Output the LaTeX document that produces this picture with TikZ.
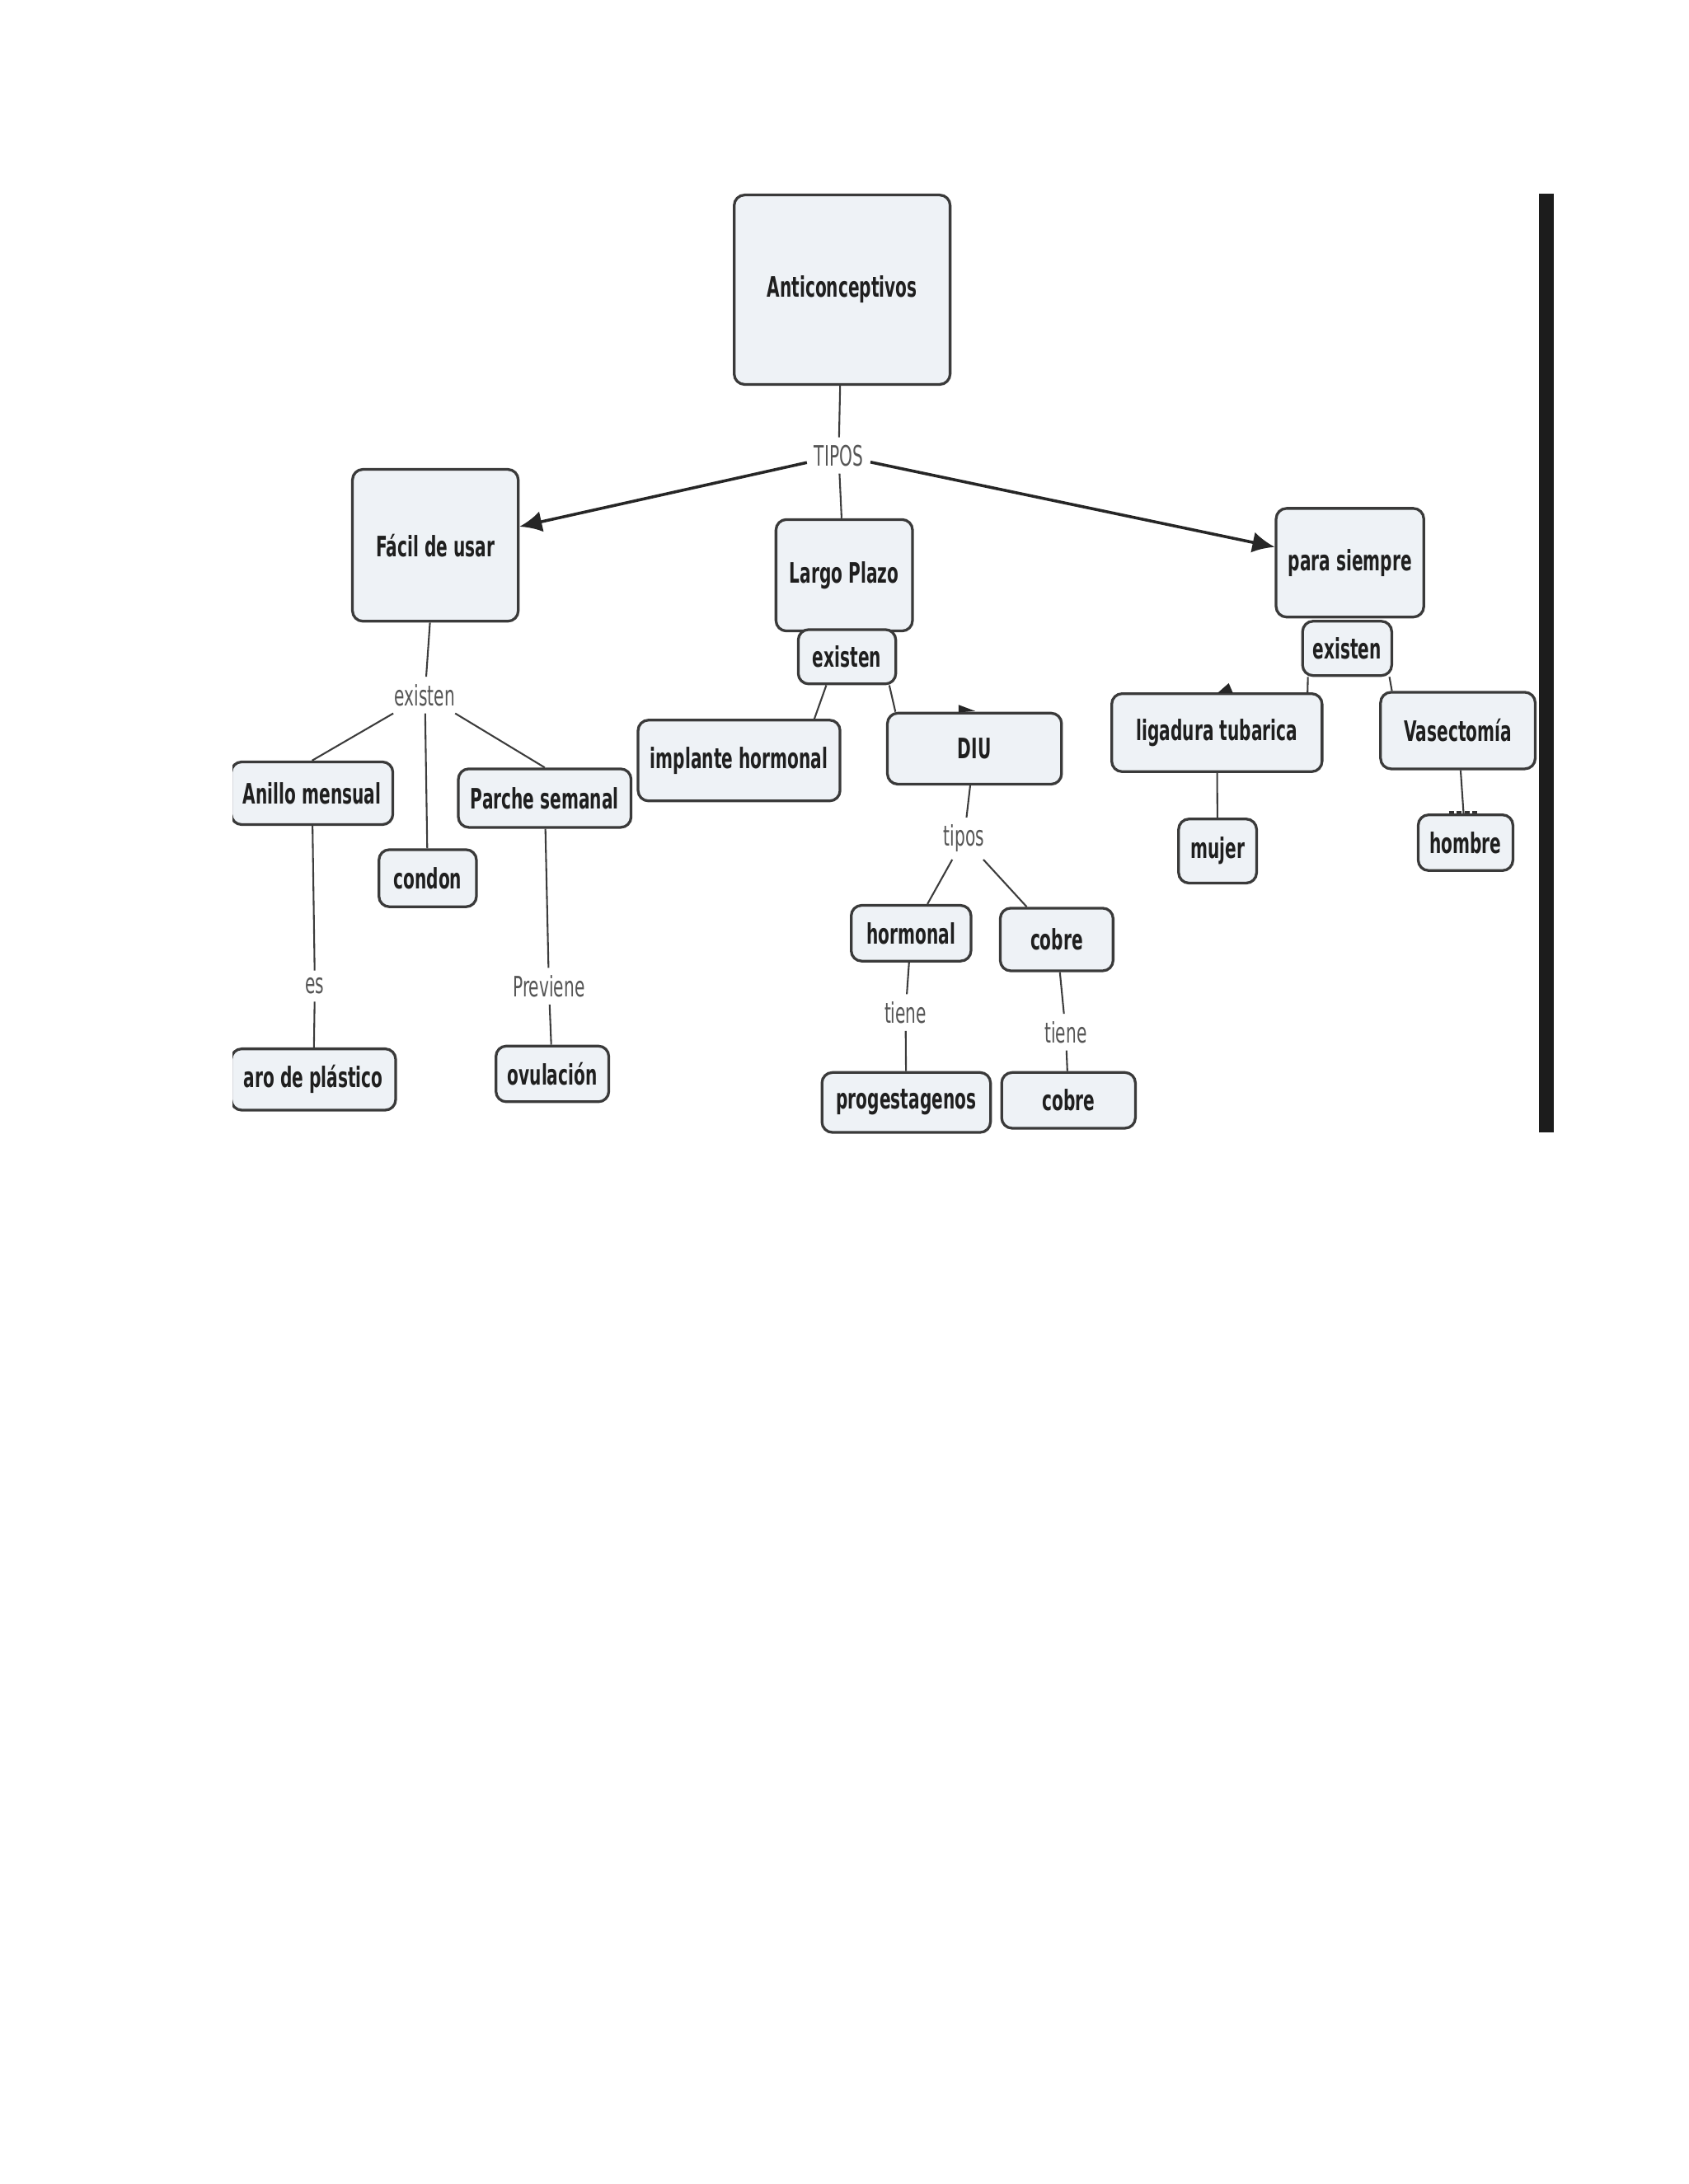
\documentclass[tikz,border=0pt]{standalone}
\usepackage{fontspec}
\setmainfont[FakeStretch=0.59]{DejaVu Sans}
\usetikzlibrary{arrows.meta}
\definecolor{boxfill}{HTML}{EEF2F6}
\definecolor{boxline}{HTML}{3A3A3A}
\definecolor{linkc}{HTML}{3C3C3C}
\definecolor{labc}{HTML}{555555}
\definecolor{barc}{HTML}{1C1C1C}
\tikzset{
  cbox/.style={draw=boxline, line width=1.1pt, fill=boxfill, rounded corners=0.15cm,
    inner sep=0pt, align=center, text=black!88,
    font=\fontsize{11.5}{13}\selectfont\bfseries},
  lab/.style={inner sep=0.1cm, text=labc, font=\fontsize{11.5}{13}\selectfont},
  link/.style={draw=linkc, line width=0.7pt},
  arr/.style={draw=black!85, line width=1.2pt, -{Latex[length=0.32cm,width=0.3cm]}},
}
\newcommand\bx[6]{\node[cbox,minimum width=#4*0.02cm,minimum height=#5*0.02cm] (#1) at (#2,#3) {#6};}
\begin{document}
\begin{tikzpicture}[x=0.02cm,y=-0.02cm]
\useasboundingbox[fill=white] (0,0) rectangle (1212,1568);
\begin{scope}
\clip (167,130) rectangle (1212,816);
% boxes
\bx{anti}{604.5}{208}{155}{136}{Anticonceptivos}
\bx{facil}{312.5}{391.5}{119}{109}{Fácil de usar}
\bx{largo}{606}{413}{98}{80}{Largo Plazo}
\bx{lpex}{608}{471.5}{70}{39}{existen}
\bx{para}{969}{404}{106}{78}{para siempre}
\bx{psex}{967}{465.5}{64}{39}{existen}
\bx{anil}{224}{569.5}{116}{45}{Anillo mensual}
\bx{condon}{307}{630.5}{70}{41}{condon}
\bx{parche}{391}{573}{124}{42}{Parche semanal}
\bx{impl}{530.5}{546}{145}{58}{implante hormonal}
\bx{diu}{699.5}{537.5}{125}{51}{DIU}
\bx{horm}{654}{670}{86}{40}{hormonal}
\bx{cobA}{758.5}{674.5}{81}{45}{cobre}
\bx{prog}{650.5}{791.5}{121}{43}{progestagenos}
\bx{cobB}{767}{790}{96}{40}{cobre}
\bx{liga}{873.5}{526}{151}{56}{ligadura tubarica}
\bx{vase}{1046.5}{524.5}{111}{55}{Vasectomía}
\bx{mujer}{874}{611}{56}{46}{mujer}
\bx{hombre}{1052}{605}{68}{40}{hombre}
\bx{aro}{225}{775}{118}{44}{aro de plástico}
\bx{ovul}{396.5}{771}{81}{40}{ovulación}
% link labels
\node[lab] (tiposA) at (602,327) {TIPOS};
\node[lab] (exf) at (305,499) {existen};
\node[lab] (es) at (226,708) {es};
\node[lab] (prev) at (394,708) {Previene};
\node[lab] (tiposB) at (692,602) {tipos};
\node[lab] (tieneA) at (650,727) {tiene};
\node[lab] (tieneB) at (765,741) {tiene};
% connectors
\draw[link] (anti) -- (tiposA);
\draw[arr] (tiposA) -- (facil);
\draw[arr] (tiposA) -- (para);
\draw[link] (tiposA) -- (largo);
\draw[link] (facil) -- (exf);
\draw[link] (exf) -- (anil.north);
\draw[link] (exf) -- (condon);
\draw[link] (exf) -- (parche.north);
\draw[link] (anil) -- (es);
\draw[link] (es) -- (aro);
\draw[link] (parche) -- (prev);
\draw[link] (prev) -- (ovul);
\draw[link] (lpex.-126) -- (impl.29);
\draw[link] (lpex.-34) -- (diu.155);
\draw[link] (diu) -- (tiposB);
\draw[link] (tiposB) -- (horm);
\draw[link] (tiposB) -- (cobA);
\draw[link] (horm) -- (tieneA);
\draw[link] (tieneA) -- (prog);
\draw[link] (cobA) -- (tieneB);
\draw[link] (tieneB) -- (cobB);
\draw[link] (psex.-144) -- (liga.24.5);
\draw[link] (psex.-34) -- (vase.149);
\draw[link] (liga) -- (mujer);
\draw[link] (vase) -- (hombre);
% small leftover marks
\fill[black!85] (688,506) -- (700,510.5) -- (688,511.5) -- cycle;
\fill[black!85] (874,497.5) -- (882,490.5) -- (885,497.5) -- cycle;
\draw[black!80, line width=1.2pt, dash pattern=on 2pt off 1.2pt] (1040,583) -- (1062,583);
\end{scope}
% dark bar at right
\fill[barc] (1104.5,139) rectangle (1115.5,813);
\end{tikzpicture}
\end{document}
